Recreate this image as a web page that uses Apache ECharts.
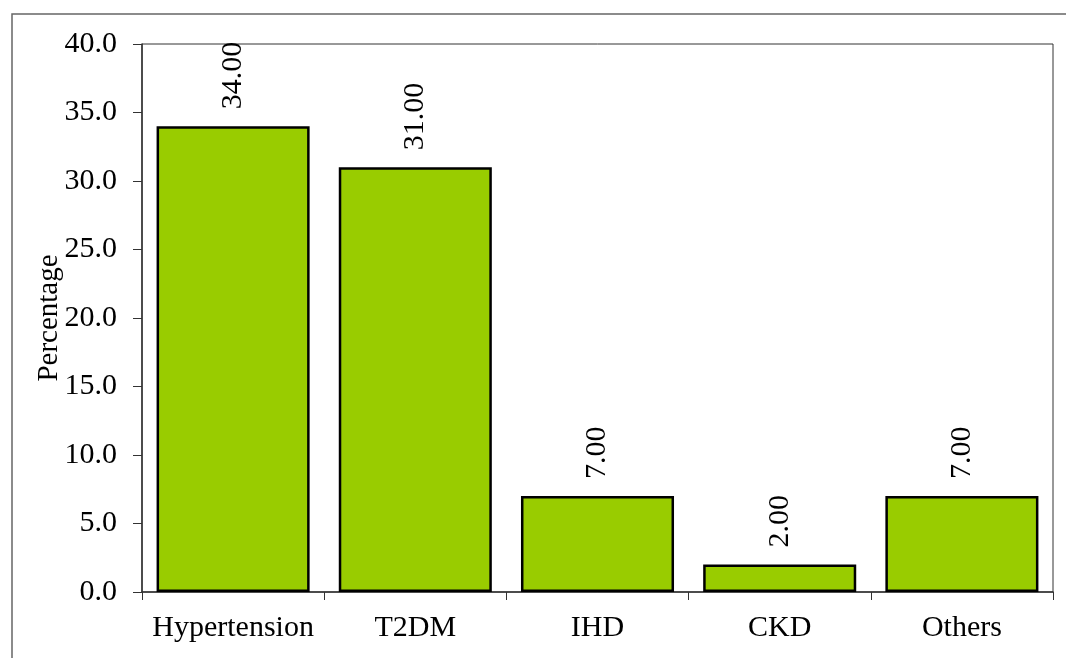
<!DOCTYPE html>
<html>
<head>
<meta charset="utf-8">
<script src="https://cdn.jsdelivr.net/npm/echarts@6/dist/echarts.min.js"></script>
<style>
  html, body { margin: 0; padding: 0; background: #fff; }
  #main { width: 1066px; height: 658px; }
</style>
</head>
<body>
<div id="main"></div>
<script>
var categories = ['Hypertension', 'T2DM', 'IHD', 'CKD', 'Others'];
var percentages = [34.00, 31.00, 7.00, 2.00, 7.00];

var chart = echarts.init(document.getElementById('main'));
var font = 'Liberation Serif';

var option = {
  backgroundColor: '#fff',
  animation: false,
  graphic: [
    {
      type: 'rect',
      shape: { x: 12, y: 14, width: 1200, height: 800 },
      style: { fill: 'none', stroke: '#666', lineWidth: 1.5 },
      z: -1
    }
  ],
  grid: {
    left: 142, right: 13, top: 44, bottom: 66,
    show: true, borderColor: '#333', borderWidth: 1
  },
  xAxis: {
    type: 'category',
    data: categories,
    axisLine: { lineStyle: { color: '#333', width: 1.5 } },
    axisTick: { show: true, length: 8, lineStyle: { color: '#333' } },
    axisLabel: { color: '#000', fontFamily: font, fontSize: 30, margin: 21, interval: 0 }
  },
  yAxis: {
    type: 'value',
    min: 0, max: 40, interval: 5,
    name: 'Percentage',
    nameLocation: 'middle',
    nameGap: 78,
    nameRotate: 90,
    nameMoveOverlap: false,
    nameTextStyle: { color: '#000', fontFamily: font, fontSize: 29 },
    axisLine: { show: true, lineStyle: { color: '#333', width: 1.5 } },
    axisTick: { show: true, length: 9, lineStyle: { color: '#333' } },
    splitLine: { show: false },
    axisLabel: {
      color: '#000', fontFamily: font, fontSize: 30, margin: 25,
      formatter: function (v) { return v.toFixed(1); }
    }
  },
  series: [
    {
      type: 'bar',
      data: percentages,
      barCategoryGap: '16%',
      itemStyle: { color: '#99CC00', borderColor: '#000', borderWidth: 2.5 },
      label: {
        show: true,
        position: 'top',
        rotate: 90,
        align: 'left',
        verticalAlign: 'middle',
        distance: 17,
        color: '#000',
        fontFamily: font,
        fontSize: 30,
        formatter: function (p) { return p.value.toFixed(2); }
      }
    }
  ]
};

chart.setOption(option);
</script>
</body>
</html>
